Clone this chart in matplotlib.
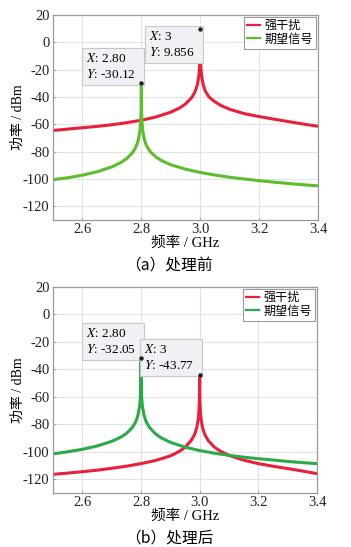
import matplotlib
matplotlib.use("Agg")
import matplotlib.pyplot as plt

plt.rcParams['font.family'] = ['Liberation Serif', 'Noto Sans CJK SC', 'DejaVu Sans']
plt.rcParams['mathtext.fontset'] = 'stix'
plt.rcParams['axes.unicode_minus'] = False

# ---- data: (a) before processing ----
a_red_f = [2.50, 2.55, 2.60, 2.65, 2.70, 2.75, 2.80, 2.85, 2.90, 2.93, 2.95, 2.97, 2.98, 2.985, 2.99,
           2.995, 2.997, 2.998, 2.999, 2.9995, 3.0, 3.0005, 3.001, 3.002, 3.003, 3.005, 3.01, 3.015,
           3.02, 3.03, 3.05, 3.07, 3.10, 3.15, 3.20, 3.25, 3.30, 3.35, 3.40]
a_red_p = [-64.5, -63.5, -62.5, -61.5, -60.3, -58.8, -57.0, -54.6, -51.1, -48.0, -45.1, -40.7, -37.2, -34.7, -31.2,
           -25.1, -20.7, -17.2, -11.2, -5.3, 9.856, -5.3, -11.1, -17.0, -20.5, -24.9, -30.9, -34.4,
           -36.8, -40.0, -43.5, -46.2, -49.0, -52.2, -54.3, -56.2, -58.0, -59.8, -61.4]
a_grn_f = [2.50, 2.55, 2.60, 2.65, 2.70, 2.73, 2.75, 2.77, 2.78, 2.785, 2.79, 2.795, 2.797, 2.798, 2.799,
           2.7995, 2.80, 2.8005, 2.801, 2.802, 2.803, 2.805, 2.81, 2.815, 2.82, 2.83, 2.85, 2.87, 2.90,
           2.95, 3.00, 3.05, 3.10, 3.15, 3.20, 3.25, 3.30, 3.35, 3.40]
a_grn_p = [-100.5, -99.1, -97.2, -94.7, -91.1, -88.0, -85.1, -80.7, -77.2, -74.7, -71.1, -65.1, -60.7, -57.2, -51.2,
           -45.3, -30.12, -45.3, -51.1, -57.0, -60.5, -64.9, -70.8, -74.2, -76.6, -79.9, -84.0, -86.7, -89.6,
           -92.8, -95.2, -97.1, -98.7, -100.0, -101.2, -102.3, -103.3, -104.2, -105.0]

# ---- data: (b) after processing ----
b_red_f = a_red_f
b_red_p = [-116.4, -115.5, -114.5, -113.4, -112.0, -110.5, -108.6, -106.3, -103.0, -99.8, -96.8, -92.0, -88.5, -86.0, -82.4,
           -76.4, -72.0, -68.6, -62.6, -56.8, -43.77, -56.8, -62.6, -68.6, -72.1, -76.5, -82.5, -86.0,
           -88.5, -92.0, -96.6, -99.5, -102.6, -106.1, -108.6, -110.5, -112.2, -114.0, -115.9]
b_grn_f = a_grn_f
b_grn_p = [-101.5, -100.0, -98.2, -95.8, -92.4, -89.5, -86.7, -82.4, -79.0, -76.5, -73.0, -67.0, -62.6, -59.1, -53.1,
           -47.2, -32.05, -47.2, -53.1, -59.1, -62.6, -67.0, -73.1, -76.6, -79.1, -82.6, -87.0, -90.0, -93.1,
           -96.6, -99.1, -101.0, -102.6, -103.9, -105.0, -106.0, -107.0, -107.9, -108.6]

xticks = [2.6, 2.8, 3.0, 3.2, 3.4]
xticklabels = ['2.6', '2.8', '3.0', '3.2', '3.4']
yticks = [-120, -100, -80, -60, -40, -20, 0, 20]
legend_labels = ['强干扰', '期望信号']
tips_a = [(2.80, -30.12, '2.80', '-30.12', 'br'), (3.0, 9.856, '3', '9.856', 'tr')]
tips_b = [(2.80, -32.05, '2.80', '-32.05', 'br'), (3.0, -43.77, '3', '-43.77', 'br')]

RED = '#E8203A'
GRN_A = '#5CBE2C'
GRN_B = '#2DAA48'

W, H = 351, 547
fig = plt.figure(figsize=(W / 100, H / 100), dpi=100)


def make_ax(top, bottom, left=53, right=318):
    return fig.add_axes([left / W, 1 - bottom / H, (right - left) / W, (bottom - top) / H])


def style(ax):
    ax.set_xlim(2.5, 3.4)
    ax.set_ylim(-130, 20)
    ax.set_xticks(xticks)
    ax.set_xticklabels(xticklabels)
    ax.set_yticks(yticks)
    ax.grid(True, color='#e3e3e3', lw=0.8)
    ax.set_axisbelow(True)
    for s in ax.spines.values():
        s.set_color('#9a9a9a')
        s.set_linewidth(0.9)
    ax.tick_params(direction='in', length=2.5, width=0.6, color='#9a9a9a',
                   labelsize=10.5, pad=2.5, labelcolor='#222222')
    ax.set_ylabel('功率 / dBm', fontsize=10)
    ax.yaxis.set_label_coords(-0.105, 0.5)
    ax.set_xlabel('频率 / GHz', fontsize=10.5, labelpad=0)


def tip(ax, x, y, xs, ys, kind):
    txt = '$X$: ' + xs + '\n$Y$: ' + ys + '  '
    va = 'bottom' if kind == 'br' else 'top'
    oy = 2 if kind == 'br' else -1
    ax.annotate(txt, xy=(x, y), xytext=(-1, oy), textcoords='offset points',
                ha='right', va=va, multialignment='left', fontsize=9.5, linespacing=1.3,
                bbox=dict(boxstyle='square,pad=0.3', fc='#f0f1f5', ec='#c8c8c8', lw=0.8))
    ax.plot([x], [y], 'o', ms=2.2, color='#222222', zorder=6)


def panel(ax, rf, rp, gf, gp, grn, tips):
    l1, = ax.plot(rf, rp, color=RED, lw=2.2, solid_joinstyle='miter')
    l2, = ax.plot(gf, gp, color=grn, lw=2.2, solid_joinstyle='miter')
    style(ax)
    for t in tips:
        tip(ax, *t)
    leg = ax.legend([l1, l2], legend_labels, loc='upper right', fontsize=8.7,
                    handlelength=1.1, handletextpad=0.35, borderpad=0.25,
                    labelspacing=0.15, borderaxespad=0.15, fancybox=False,
                    framealpha=1, edgecolor='#9a9a9a')
    leg.get_frame().set_linewidth(0.8)
    for h in leg.legend_handles:
        h.set_linewidth(1.6)


ax1 = make_ax(15, 220)
panel(ax1, a_red_f, a_red_p, a_grn_f, a_grn_p, GRN_A, tips_a)
ax2 = make_ax(287, 493, right=317)
panel(ax2, b_red_f, b_red_p, b_grn_f, b_grn_p, GRN_B, tips_b)

fig.text(169 / W, 1 - 266 / H, '（a）处理前', ha='center', va='center', fontsize=11.3,
         family=['Noto Sans CJK SC', 'Liberation Serif'])
fig.text(169 / W, 1 - 538 / H, '（b）处理后', ha='center', va='center', fontsize=11.3,
         family=['Noto Sans CJK SC', 'Liberation Serif'])

fig.savefig('out.png', dpi=100, facecolor='white')
